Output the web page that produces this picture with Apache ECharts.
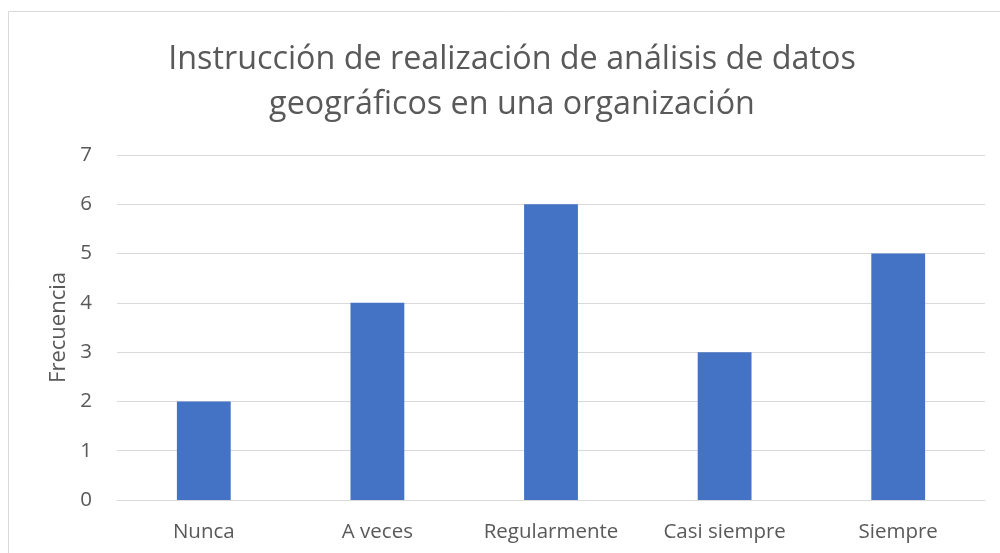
<!DOCTYPE html>
<html>
<head>
<meta charset="utf-8">
<script src="https://cdn.jsdelivr.net/npm/echarts@6/dist/echarts.min.js"></script>
<style>
html,body{margin:0;padding:0;background:#fff;}
#c{width:1000px;height:553px;}
</style>
</head>
<body>
<div id="c"></div>
<script>
const categories = ["Nunca", "A veces", "Regularmente", "Casi siempre", "Siempre"];
const frecuencia = [2, 4, 6, 3, 5];
const titleText = "Instrucción de realización de análisis de datos\ngeográficos en una organización";
const yAxisName = "Frecuencia";

const chart = echarts.init(document.getElementById('c'), null, {renderer: 'canvas'});
const font = "'Open Sans', 'Noto Sans', sans-serif";
chart.setOption({
  animation: false,
  backgroundColor: '#fff',
  graphic: [{
    type: 'rect',
    shape: {x: 8.5, y: 11.5, width: 1100, height: 700},
    style: {fill: 'none', stroke: '#d9d9d9', lineWidth: 1},
    silent: true
  }],
  title: {
    text: titleText,
    left: 507,
    textAlign: 'center',
    top: 32,
    textStyle: {
      fontFamily: font,
      fontSize: 32.3,
      fontWeight: 'normal',
      color: '#595959',
      lineHeight: 45
    }
  },
  grid: {left: 117, right: 15, top: 155, bottom: 53, containLabel: false},
  xAxis: {
    type: 'category',
    data: categories,
    axisLine: {lineStyle: {color: '#d9d9d9', width: 1}},
    axisTick: {show: false},
    axisLabel: {color: '#595959', fontFamily: font, fontSize: 20.5, margin: 22, interval: 0}
  },
  yAxis: {
    type: 'value',
    min: 0, max: 7, interval: 1,
    name: yAxisName,
    nameLocation: 'middle',
    nameGap: 46,
    nameTextStyle: {color: '#595959', fontFamily: font, fontSize: 22},
    axisLine: {show: false},
    axisTick: {show: false},
    axisLabel: {color: '#595959', fontFamily: font, fontSize: 20.5, margin: 25},
    splitLine: {lineStyle: {color: '#d9d9d9', width: 1}}
  },
  series: [{
    type: 'bar',
    data: frecuencia,
    barWidth: '31%',
    itemStyle: {color: '#4472C4'}
  }]
});
</script>
</body>
</html>
